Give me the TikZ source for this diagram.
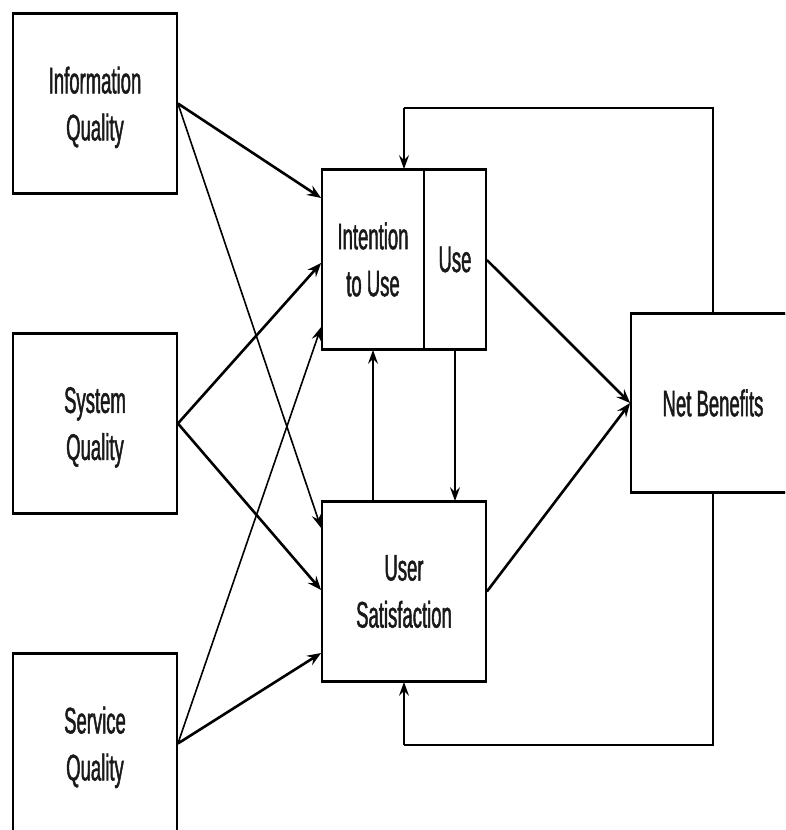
\documentclass[tikz,border=0pt]{standalone}
\usepackage{fontspec}
\newfontfamily\narrowsans[FakeStretch=0.5,FakeBold=1.2]{Liberation Sans}
\usetikzlibrary{arrows.meta,calc}
\tikzset{
  box/.style={draw, line width=1.8pt, minimum width=164pt, minimum height=179pt, inner sep=0pt, align=center,
    font=\narrowsans\fontsize{37}{47}\selectfont, text=black!90},
  qbox/.style={box, text depth=0pt},
  thickarrow/.style={line width=2.6pt, -{Stealth[length=14pt,width=11pt,inset=5pt]}},
  thinarrow/.style={line width=1.6pt, -{Stealth[length=14pt,width=10pt,inset=5pt]}},
  thinline/.style={line width=1.6pt}
}
\begin{document}
\begin{tikzpicture}[x=1pt,y=-1pt]
\useasboundingbox (0,0) rectangle (785,830);
\clip (0,0) rectangle (785,830);
\node[qbox] (iq) at (95,103.5) {Information\\Quality};
\node[qbox] (sq) at (95,423.5) {System\\Quality};
\node[qbox] (svq) at (95,743.5) {Service\\Quality};
\node[box, minimum width=102pt] (iu) at (373,259.5) {Intention\\to Use};
\node[box, minimum width=62pt] (use) at (455,259.5) {Use};
\node[box] (us) at (404,591.5) {User\\Satisfaction};
\node[box, minimum height=178pt] (nb) at (713,403) {Net Benefits};
\foreach \n in {iq,sq,svq,iu,use,us,nb}
  \draw[line width=2.8pt] (\n.north west) -- (\n.north east) (\n.south west) -- (\n.south east);
% quality -> intention/use and user satisfaction
\draw[thickarrow] (iq.east) -- ([yshift=61.5pt]iu.west);
\draw[thinarrow] (iq.east) -- ([yshift=63.5pt]us.west);
\draw[thickarrow] (sq.east) -- ([yshift=-3.5pt]iu.west);
\draw[thickarrow] (sq.east) -- ([yshift=1.5pt]us.west);
\draw[thinarrow] (svq.east) -- ([yshift=-67.5pt]iu.west);
\draw[thickarrow] (svq.east) -- ([yshift=-61.5pt]us.west);
% to net benefits
\draw[thickarrow] ([yshift=-0.5pt]use.east) -- (nb.west);
\draw[thickarrow] (us.east) -- (nb.west);
% between use and satisfaction
\draw[thinarrow] (iu.south |- us.north) -- (iu.south);
\draw[thinarrow] (use.south) -- (use.south |- us.north);
% feedback loops
\coordinate (ft) at (404,108);
\coordinate (fb) at (404,745);
\draw[thinline] (nb.north) |- (ft);
\draw[thinarrow] (ft) -- (ft |- iu.north);
\draw[thinline] (nb.south) |- (fb);
\draw[thinarrow] (fb) -- (us.south);
\end{tikzpicture}
\end{document}
